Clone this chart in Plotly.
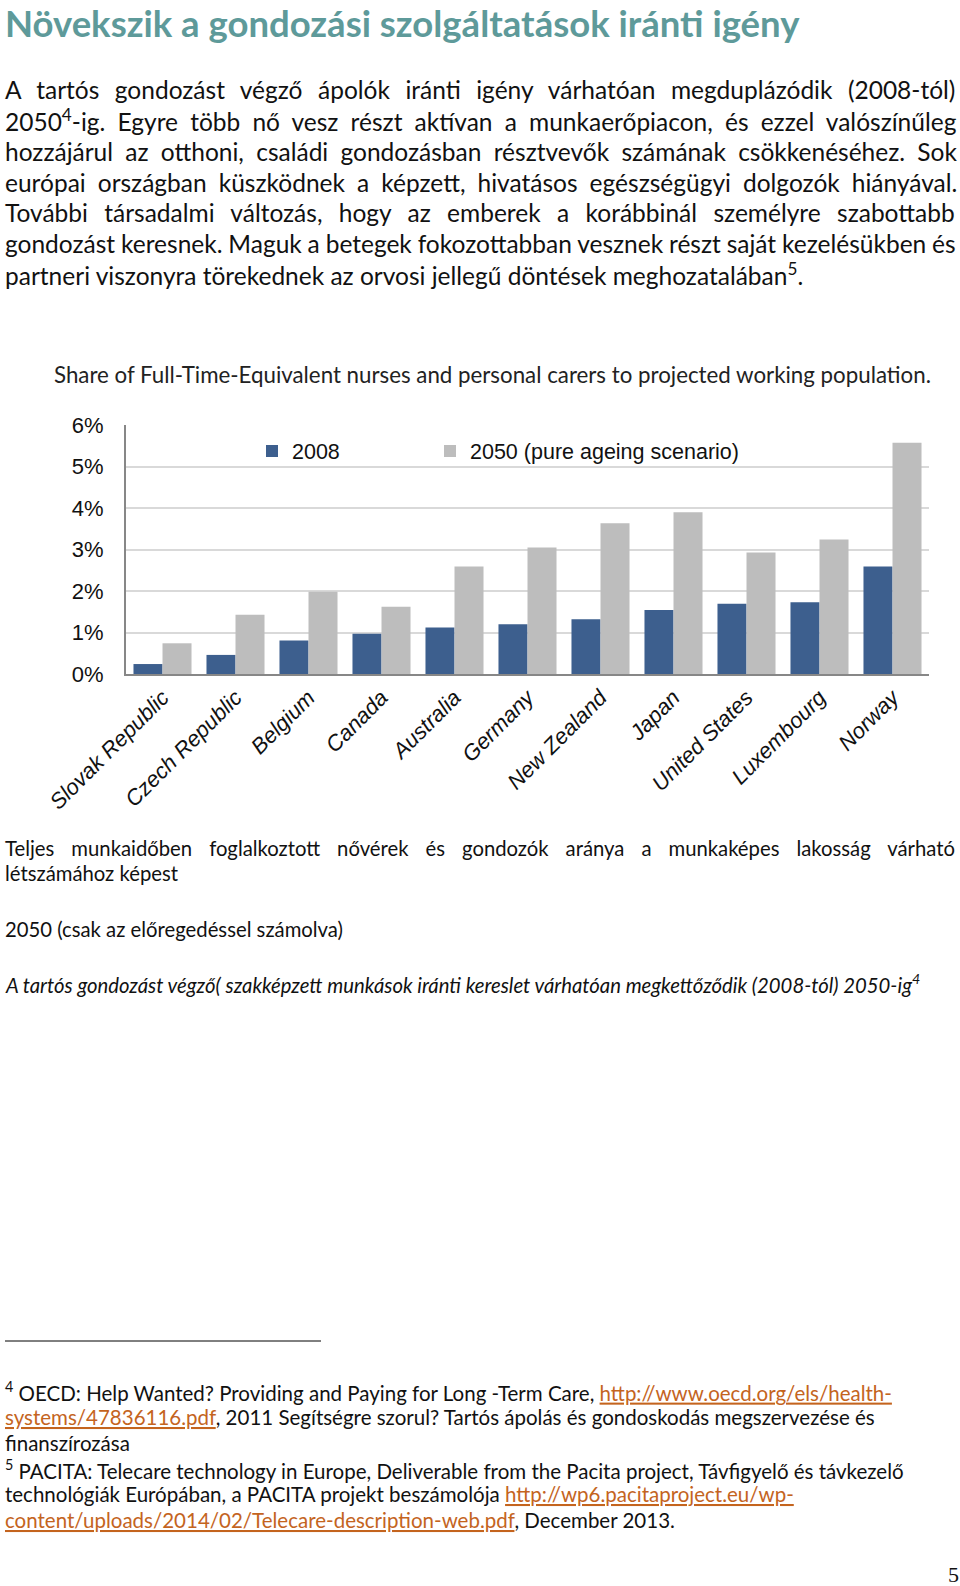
import plotly.graph_objects as go

W, H = 960, 1586

# ---------------- data ----------------
countries = ["Slovak Republic", "Czech Republic", "Belgium", "Canada", "Australia",
             "Germany", "New Zealand", "Japan", "United States", "Luxembourg", "Norway"]
share_2008 = [0.24, 0.46, 0.81, 0.97, 1.12, 1.20, 1.32, 1.54, 1.69, 1.73, 2.59]
share_2050 = [0.74, 1.43, 1.98, 1.62, 2.59, 3.05, 3.63, 3.90, 2.93, 3.24, 5.57]
y_tick_vals = [0, 1, 2, 3, 4, 5, 6]
y_tick_text = ["0%", "1%", "2%", "3%", "4%", "5%", "6%"]
series_names = ["2008", "2050 (pure ageing scenario)"]

page_title = "Növekszik a gondozási szolgáltatások iránti igény"
body_lines = [
    "A tartós gondozást végző ápolók iránti igény várhatóan megduplázódik (2008-tól)",
    "2050<sup>4</sup>-ig. Egyre több nő vesz részt aktívan a munkaerőpiacon, és ezzel valószínűleg",
    "hozzájárul az otthoni, családi gondozásban résztvevők számának csökkenéséhez. Sok",
    "európai országban küszködnek a képzett, hivatásos egészségügyi dolgozók hiányával.",
    "További társadalmi változás, hogy az emberek a korábbinál személyre szabottabb",
    "gondozást keresnek. Maguk a betegek fokozottabban vesznek részt saját kezelésükben és",
    "partneri viszonyra törekednek az orvosi jellegű döntések meghozatalában<sup>5</sup>.",
]
chart_title = "Share of Full-Time-Equivalent nurses and personal carers to projected working population."
caption_lines = [
    "Teljes munkaidőben foglalkoztott nővérek és gondozók aránya a munkaképes lakosság várható",
    "létszámához képest",
]
caption2 = "2050 (csak az előregedéssel számolva)"
caption3 = "A tartós gondozást végző( szakképzett munkások iránti kereslet várhatóan megkettőződik (2008-tól) 2050-ig<sup>4</sup>"


def link(t):
    return '<span style="color:#C4641E"><u>' + t + '</u></span>'


footnote_lines = [
    "<sup>4</sup> OECD: Help Wanted? Providing and Paying for Long -Term Care, " + link("http://www.oecd.org/els/health-"),
    link("systems/47836116.pdf") + ", 2011 Segítségre szorul? Tartós ápolás és gondoskodás megszervezése és",
    "finanszírozása",
    "<sup>5</sup> PACITA: Telecare technology in Europe, Deliverable from the Pacita project, Távfigyelő és távkezelő",
    "technológiák Európában, a PACITA projekt beszámolója " + link("http://wp6.pacitaproject.eu/wp-"),
    link("content/uploads/2014/02/Telecare-description-web.pdf") + ", December 2013.",
]
page_number = "5"

# ---------------- styles ----------------
BLUE = "#3D5F8E"
GREY = "#BDBDBD"
TEAL = "#5E9A9A"
BODY_FONT = "Lato"
ARIAL = "Liberation Sans, Arial"

# extra word spacing (px) used to imitate the justified paragraph lines
body_word_spacing = [9.2, 5.9, 6.0, 5.8, 10.1, -0.4, 0]
caption_word_spacing = [11.8, 0]


def py(y):
    return 1 - y / H


def px(x):
    return x / W


fig = go.Figure()
fig.add_trace(go.Bar(x=countries, y=share_2008, name=series_names[0], legend="legend",
                     marker=dict(color=BLUE, line=dict(width=0))))
fig.add_trace(go.Bar(x=countries, y=share_2050, name=series_names[1], legend="legend2",
                     marker=dict(color=GREY, line=dict(width=0))))

annotations = []


def ann(text, x, y, size, color="#111111", family=BODY_FONT, xanchor="left", yanchor="middle"):
    annotations.append(dict(text=text, x=px(x), y=py(y), xref="paper", yref="paper",
                            xanchor=xanchor, yanchor=yanchor, showarrow=False, borderpad=0,
                            font=dict(size=size, color=color, family=family)))


def spaced(t, ws):
    if ws:
        return '<span style="word-spacing:%.1fpx">' % ws + t + '</span>'
    return t


ann("<b>" + page_title + "</b>", 4, 22.5, 36.5, color=TEAL)
body_y = [89, 120.4, 151.7, 182.1, 212.4, 243.8, 274.1]
for t, y, ws in zip(body_lines, body_y, body_word_spacing):
    ann(spaced(t, ws), 4, y, 24.5)

ann(chart_title, 53, 374, 22.3, color="#222222")

cap_y = [848, 873]
for t, y, ws in zip(caption_lines, cap_y, caption_word_spacing):
    ann(spaced(t, ws), 4, y, 20.3)
ann(caption2, 4, 929, 20.3)
ann("<i>" + caption3 + "</i>", 4, 984, 20.3)

fn_y = [1391, 1417, 1443, 1469, 1494, 1520]
for t, y in zip(footnote_lines, fn_y):
    ann(t, 4, y, 20.5)

ann(page_number, 960, 1574, 22, family="Liberation Serif", xanchor="right")

shapes = [dict(type="line", xref="paper", yref="paper", x0=px(5), x1=px(321),
               y0=py(1341), y1=py(1341), line=dict(color="#000000", width=1))]

legend_common = dict(orientation="h", xanchor="left", yanchor="middle",
                     font=dict(family=ARIAL, size=21.5, color="#111111"),
                     bgcolor="rgba(0,0,0,0)", itemwidth=30)

fig.update_layout(
    width=W, height=H,
    margin=dict(l=0, r=0, t=0, b=0, autoexpand=False),
    paper_bgcolor="white", plot_bgcolor="white",
    barmode="group", bargap=0.205, bargroupgap=0,
    showlegend=True,
    legend=dict(x=px(252), y=py(451), **legend_common),
    legend2=dict(x=px(430), y=py(451), **legend_common),
    annotations=annotations,
    shapes=shapes,
    xaxis=dict(domain=[px(126), px(929)], anchor="y", automargin=False,
               showline=True, linecolor="#878787", linewidth=2,
               tickangle=-45, ticks="",
               tickfont=dict(family=ARIAL, size=22, color="#111111", style="italic"),
               showgrid=False, fixedrange=True),
    yaxis=dict(domain=[py(674), py(425)], anchor="x", automargin=False,
               range=[0, 6], tickvals=y_tick_vals, ticktext=y_tick_text,
               showline=True, linecolor="#878787", linewidth=2,
               showgrid=True, gridcolor="#D9D9D9", gridwidth=1.5,
               zeroline=False, ticks="", ticklabelstandoff=16,
               tickfont=dict(family=ARIAL, size=22, color="#111111"), fixedrange=True),
)

fig.write_html("out.html", config={"displayModeBar": False},
               post_script="document.body.style.margin='0';document.body.style.overflow='hidden';")
